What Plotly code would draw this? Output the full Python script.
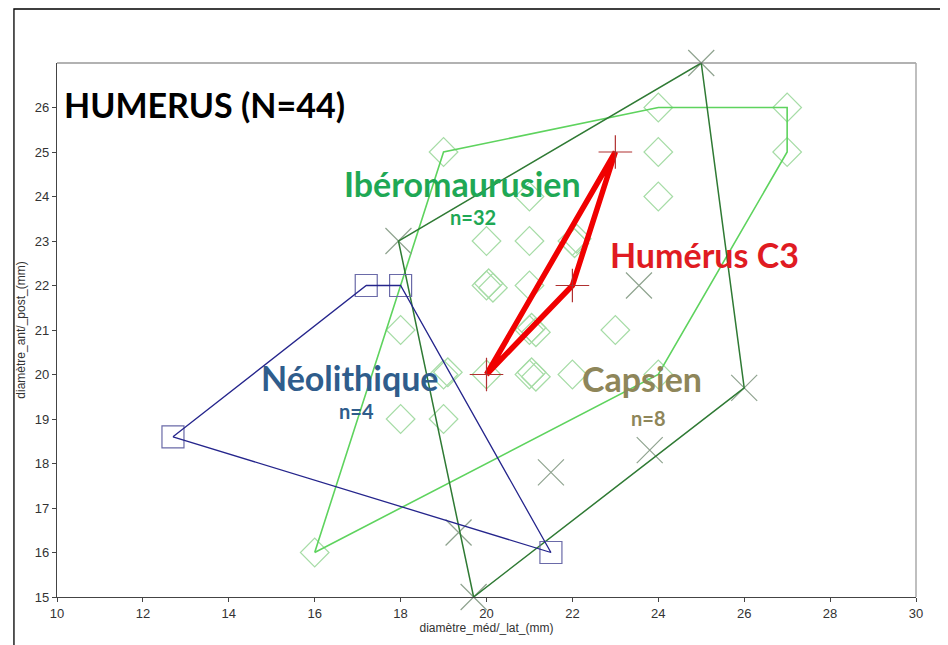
import plotly.graph_objects as go

# ---- data ----
neo_x = [17.2, 18.0, 12.7, 21.5]
neo_y = [22.0, 22.0, 18.6, 16.0]
neo_hull_x = [12.7, 17.2, 18.0, 21.5, 12.7]
neo_hull_y = [18.6, 22.0, 22.0, 16.0, 18.6]

cap_x = [25.0, 17.95, 26.0, 19.7, 23.55, 21.5, 23.8, 19.35]
cap_y = [27.0, 23.0, 19.7, 15.0, 22.0, 17.8, 18.3, 16.45]
cap_hull_x = [19.7, 26.0, 25.0, 17.95, 19.7]
cap_hull_y = [15.0, 19.7, 27.0, 23.0, 15.0]

ibe_x = [19, 24, 27, 27, 24, 24, 21, 20, 21, 22, 22.1, 20, 20.15, 21, 18,
         21, 21.15, 21.05, 23, 19, 19.1, 20, 21, 21.15, 22, 24, 18, 19, 16,
         22.05, 20.05, 21.05]
ibe_y = [25, 26, 26, 25, 25, 24, 24, 23, 23, 23, 23.05, 22, 21.95, 22, 21,
         21, 20.95, 21.05, 21, 20, 20.05, 20, 20, 19.95, 20, 20, 19, 19, 16,
         22.95, 22.05, 20.05]
ibe_hull_x = [16, 19, 24, 27, 27, 24, 16]
ibe_hull_y = [16, 25, 26, 26, 25, 20, 16]

c3_x = [20.0, 23.0, 22.0]
c3_y = [20.0, 25.0, 22.0]
c3_loop_x = [20.0, 23.0, 22.0, 20.0]
c3_loop_y = [20.0, 25.0, 22.0, 20.0]

x_ticks = [10, 12, 14, 16, 18, 20, 22, 24, 26, 28, 30]
y_ticks = list(range(15, 27))

fig = go.Figure()

fig.add_trace(go.Scatter(x=ibe_x, y=ibe_y, mode="markers",
                         marker=dict(symbol="diamond-open", size=22,
                                     color="#a6dca6", line=dict(width=1.2)),
                         cliponaxis=False, hoverinfo="skip"))
fig.add_trace(go.Scatter(x=ibe_hull_x, y=ibe_hull_y, mode="lines",
                         line=dict(color="#5ed35e", width=1.6), hoverinfo="skip"))
fig.add_trace(go.Scatter(x=cap_x, y=cap_y, mode="markers",
                         marker=dict(symbol="x-thin-open", size=26,
                                     color="#8fa38f", line=dict(width=1.2, color="#8fa38f")),
                         cliponaxis=False, hoverinfo="skip"))
fig.add_trace(go.Scatter(x=cap_hull_x, y=cap_hull_y, mode="lines",
                         line=dict(color="#2f7a34", width=1.5), hoverinfo="skip"))
fig.add_trace(go.Scatter(x=neo_x, y=neo_y, mode="markers",
                         marker=dict(symbol="square-open", size=22,
                                     color="#6a6aa8", line=dict(width=1.2)),
                         cliponaxis=False, hoverinfo="skip"))
fig.add_trace(go.Scatter(x=neo_hull_x, y=neo_hull_y, mode="lines",
                         line=dict(color="#25258c", width=1.3), hoverinfo="skip"))
fig.add_trace(go.Scatter(x=c3_loop_x, y=c3_loop_y, mode="lines",
                         line=dict(color="#f00000", width=5.5), hoverinfo="skip"))
fig.add_trace(go.Scatter(x=c3_x, y=c3_y, mode="markers",
                         marker=dict(symbol="cross-thin-open", size=24,
                                     color="#b03030", line=dict(width=1.2, color="#b03030")),
                         cliponaxis=False, hoverinfo="skip"))

TF = "Lato, Open Sans, sans-serif"
ann = [
    ("HUMERUS (N=44)", 13.43, 26.06, 34, "#000000", 0),
    ("Ibéromaurusien", 19.45, 24.26, 34, "#1fa855", 1),
    ("n=32", 19.68, 23.58, 20, "#1fa855", -2),
    ("Humérus C3", 25.07, 22.69, 34, "#e01b22", 0),
    ("Néolithique", 16.82, 19.88, 34, "#2f5d8c", 2),
    ("n=4", 16.97, 19.25, 20, "#2f5d8c", -3),
    ("Capsien", 23.63, 19.88, 34, "#8e865a", 1),
    ("n=8", 23.77, 19.07, 20, "#8e865a", -2),
]
for t, x, y, s, c, ys in ann:
    fig.add_annotation(x=x, y=y, xref="x", yref="y", text="<b>%s</b>" % t,
                       showarrow=False, yshift=ys, borderpad=0,
                       font=dict(family=TF, size=s, color=c))

# page has an 8px body offset: plot area internal = (44..908, 55..589)
L, R, T, B = 44, 908, 55, 589
fig.add_shape(type="line", xref="paper", yref="paper", x0=0, x1=1, y0=1, y1=1,
              line=dict(color="#666666", width=1.2))
fig.add_shape(type="line", xref="paper", yref="paper", x0=1, x1=1, y0=0, y1=1,
              line=dict(color="#aaaaaa", width=1.5))
fig.add_shape(type="rect", xref="paper", yref="paper",
              x0=(0.7 - L) / (R - L), x1=(960 - L) / (R - L),
              y0=-(660 - B) / (B - T), y1=1 + (T - 1) / (B - T),
              line=dict(color="#000000", width=1.3))

AX = dict(showgrid=False, zeroline=False, showline=True, linecolor="#444444",
          linewidth=1.2, ticks="outside", ticklen=4, tickcolor="#444444",
          tickfont=dict(family="Liberation Sans Narrow, Liberation Sans, Arial",
                        size=13, color="#333333"))
fig.update_layout(
    width=948, height=645,
    margin=dict(l=L, r=948 - R, t=T, b=645 - B),
    paper_bgcolor="white", plot_bgcolor="white",
    showlegend=False,
    xaxis=dict(range=[10, 30], tickvals=x_ticks, **AX,
               title=dict(text="diamètre_méd/_lat_(mm)", standoff=0,
                          font=dict(family="Liberation Sans Narrow, Liberation Sans, Arial",
                                    size=12, color="#333333"))),
    yaxis=dict(range=[15, 27], tickvals=y_ticks, **AX,
               title=dict(text="diamètre_ant/_post_(mm)", standoff=6,
                          font=dict(family="Liberation Sans Narrow, Liberation Sans, Arial",
                                    size=12, color="#333333"))),
)

fig.write_html("out.html")
